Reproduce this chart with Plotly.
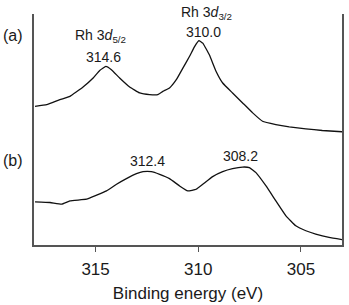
import plotly.graph_objects as go

# Spectrum (a)
energy_a = [317.95, 317.38, 316.74, 316.25, 315.61, 315.12, 314.80, 314.50, 314.23, 313.83,
            313.34, 312.85, 312.37, 311.97, 311.72, 311.40, 311.07, 310.75, 310.43, 310.18,
            309.97, 309.78, 309.46, 309.13, 308.81, 308.33, 307.84, 307.35, 306.87, 306.22,
            305.57, 304.76, 303.96, 302.95]
intensity_a = [139.3, 141.0, 146.0, 149.3, 158.7, 167.7, 175.3, 179.3, 176.0, 167.7,
               158.7, 152.7, 151.0, 151.0, 154.3, 157.7, 166.0, 177.7, 189.3, 199.3,
               205.3, 202.7, 191.0, 174.3, 162.7, 152.7, 142.7, 132.7, 124.3, 121.0,
               118.7, 116.7, 115.0, 113.7]

# Spectrum (b)
energy_b = [317.95, 317.22, 316.66, 316.25, 315.44, 314.95, 314.47, 313.98, 313.50, 313.01,
            312.69, 312.29, 311.88, 311.40, 310.91, 310.51, 310.10, 309.78, 309.30, 308.81,
            308.33, 307.84, 307.51, 307.19, 306.70, 306.22, 305.73, 305.25, 304.76, 304.28,
            303.63, 302.95]
intensity_b = [43.3, 42.7, 41.0, 44.3, 46.0, 50.0, 54.3, 61.0, 66.7, 71.7,
               73.7, 73.7, 71.0, 66.7, 59.3, 54.3, 56.0, 61.0, 68.7, 73.7,
               76.7, 78.3, 77.7, 72.7, 59.3, 44.3, 29.3, 19.3, 14.3, 11.0,
               7.7, 5.3]

tick_vals = [315, 310, 305]
tick_text = ["315", "310", "305"]

FONT = "Liberation Sans, Arial, sans-serif"

fig = go.Figure()
for xs, ys in [(energy_a, intensity_a), (energy_b, intensity_b)]:
    fig.add_trace(go.Scatter(x=xs, y=ys, mode="lines",
                             line=dict(color="#111111", width=1.3, shape="spline", smoothing=0.3),
                             showlegend=False, hoverinfo="skip"))

ann_font = dict(family=FONT, size=14, color="#1a1a1a")
annotations = [
    dict(x=314.75, y=210, text="Rh 3<i>d</i><sub>5/2</sub>", xref="x", yref="y"),
    dict(x=314.6, y=189, text="314.6", xref="x", yref="y"),
    dict(x=309.6, y=1.004, text="Rh 3<i>d</i><sub>3/2</sub>", xref="x", yref="paper"),
    dict(x=309.75, y=214, text="310.0", xref="x", yref="y"),
    dict(x=312.47, y=84, text="312.4", xref="x", yref="y"),
    dict(x=307.95, y=89, text="308.2", xref="x", yref="y"),
    dict(x=-0.068, y=0.909, text="(a)", xref="paper", yref="paper"),
    dict(x=-0.068, y=0.366, text="(b)", xref="paper", yref="paper"),
]
for a in annotations:
    a.update(showarrow=False, font=ann_font, xanchor="center", yanchor="middle")
annotations[-1]["font"] = dict(family=FONT, size=16, color="#1a1a1a")
annotations[-2]["font"] = dict(family=FONT, size=16, color="#1a1a1a")

fig.update_layout(
    width=349, height=305,
    margin=dict(l=34, r=5, t=14, b=59),
    paper_bgcolor="white", plot_bgcolor="white",
    annotations=annotations,
    font=dict(family=FONT, color="#1a1a1a"),
    xaxis=dict(range=[318, 303], tickvals=tick_vals, ticktext=tick_text,
               showgrid=False, zeroline=False, showline=True, linecolor="#555555", linewidth=2,
               ticks="outside", ticklen=5, tickwidth=1, tickcolor="#555555",
               ticklabelstandoff=3,
               tickfont=dict(family=FONT, size=17, color="#1a1a1a"),
               title=dict(text="Binding energy (eV)", font=dict(family=FONT, size=17, color="#1a1a1a"),
                          standoff=9),
               mirror=False),
    yaxis=dict(range=[0, 232], showticklabels=False, ticks="", showgrid=False, zeroline=False,
               showline=True, linecolor="#555555", linewidth=2, mirror=True),
)

fig.write_html("out.html")
